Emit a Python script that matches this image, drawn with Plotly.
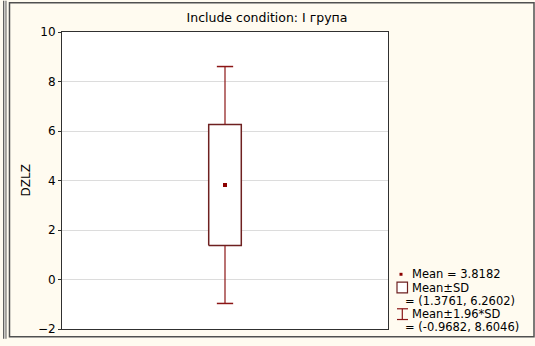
import plotly.graph_objects as go

# Summary statistics for DZLZ, group "I група"
category = ["I група"]
mean_val = [3.8182]
sd_low = [1.3761]
sd_high = [6.2602]
ci_low = [-0.9682]
ci_high = [8.6046]

y_ticks = [-2, 0, 2, 4, 6, 8, 10]

W, H = 535, 346
ML, MR, MT, MB = 62, 147, 32, 10
PW, PH = W - ML - MR, H - MT - MB

BG = "#FFFBF0"
RED = "#8B1515"
BOXC = "#6E2020"
FONT = "DejaVu Sans, Arial, sans-serif"


def px(x):
    return (x - ML) / PW


def py(y):
    return 1 - (y - MT) / PH


xc = 0.0
box_half = 0.05
cap_half = 0.025

fig = go.Figure()

# Mean ± SD box
fig.add_trace(go.Scatter(
    x=[xc - box_half, xc + box_half, xc + box_half, xc - box_half, xc - box_half],
    y=[sd_low[0], sd_low[0], sd_high[0], sd_high[0], sd_low[0]],
    mode="lines", fill="toself", fillcolor="white",
    line=dict(color=BOXC, width=1.5), hoverinfo="skip", showlegend=False))

# Whiskers to mean ± 1.96*SD
for a, b in [(sd_high[0], ci_high[0]), (sd_low[0], ci_low[0])]:
    fig.add_trace(go.Scatter(x=[xc, xc], y=[a, b], mode="lines",
                             line=dict(color=RED, width=1.2),
                             hoverinfo="skip", showlegend=False))
for v in [ci_high[0], ci_low[0]]:
    fig.add_trace(go.Scatter(x=[xc - cap_half, xc + cap_half], y=[v, v], mode="lines",
                             line=dict(color=RED, width=1.5),
                             hoverinfo="skip", showlegend=False))

# Mean point
fig.add_trace(go.Scatter(x=[xc], y=mean_val, mode="markers",
                         marker=dict(symbol="square", size=4, color="#8B0000"),
                         showlegend=False))

shapes = []
# Outer panel frame and neighbouring panel edge
shapes.append(dict(type="rect", xref="paper", yref="paper",
                   x0=px(9.5), x1=px(534), y0=py(344), y1=py(2),
                   line=dict(color="#505050", width=1.5)))
for xx, col in [(3.5, "#606060"), (4.8, "#B0B0B0"), (6, "#606060")]:
    shapes.append(dict(type="line", xref="paper", yref="paper",
                       x0=px(xx), x1=px(xx), y0=py(346), y1=py(0),
                       line=dict(color=col, width=1)))

# Legend rows (pixel y of each text line)
rows = [280, 293.6, 307.2, 320.8, 334.4]

# Legend symbols
shapes.append(dict(type="rect", xref="paper", yref="paper",
                   x0=px(397), x1=px(407.5), y0=py(rows[1] + 5.5), y1=py(rows[1] - 5.5),
                   line=dict(color=BOXC, width=1.2), fillcolor="white"))
shapes.append(dict(type="line", xref="paper", yref="paper",
                   x0=px(402.3), x1=px(402.3), y0=py(rows[3] + 5.5), y1=py(rows[3] - 5.5),
                   line=dict(color=RED, width=1.2)))
for dy in (-5.5, 5.5):
    shapes.append(dict(type="line", xref="paper", yref="paper",
                       x0=px(397), x1=px(408), y0=py(rows[3] + dy), y1=py(rows[3] + dy),
                       line=dict(color=RED, width=1.2)))
shapes.append(dict(type="rect", xref="paper", yref="paper",
                   x0=px(399.5), x1=px(402.5), y0=py(rows[0] + 1.5), y1=py(rows[0] - 1.5),
                   line=dict(width=0), fillcolor="#8B0000"))

legend_lines = [
    (411, rows[0], f"Mean = {mean_val[0]:.4f}"),
    (410.5, rows[1], "Mean±SD"),
    (404, rows[2], f"= ({sd_low[0]:.4f}, {sd_high[0]:.4f})"),
    (410.5, rows[3], "Mean±1.96*SD"),
    (404, rows[4], f"= ({ci_low[0]:.4f}, {ci_high[0]:.4f})"),
]
annotations = []
for x0, y0, t in legend_lines:
    annotations.append(dict(text=t, x=px(x0), y=py(y0), xref="paper", yref="paper",
                            xanchor="left", yanchor="middle", showarrow=False, borderpad=0,
                            font=dict(family=FONT, size=11.5, color="#000")))

# Y axis title
annotations.append(dict(text="DZLZ", x=px(25), y=py(184), xref="paper", yref="paper",
                        textangle=-90, xanchor="center", yanchor="middle", showarrow=False,
                        font=dict(family=FONT, size=12, color="#000")))

fig.update_layout(
    width=W, height=H,
    margin=dict(l=ML, r=MR, t=MT, b=MB),
    paper_bgcolor=BG, plot_bgcolor="white",
    title=dict(text="Include condition: I група", x=267 / W, xref="container",
               xanchor="center", y=1 - 18 / H, yref="container", yanchor="middle",
               font=dict(family=FONT, size=12.5, color="#000")),
    xaxis=dict(range=[-0.5, 0.5], showticklabels=False, ticks="", showgrid=False,
               zeroline=False, showline=True, mirror=True, linecolor="#303030",
               linewidth=1, fixedrange=True),
    yaxis=dict(range=[-2, 10], tickvals=y_ticks, ticks="outside", ticklen=3,
               tickcolor="#303030", showgrid=True, gridcolor="#DCDCDC", gridwidth=1,
               zeroline=False, showline=True, mirror=True, linecolor="#303030",
               linewidth=1, tickfont=dict(family=FONT, size=12, color="#000"),
               fixedrange=True),
    shapes=shapes,
    annotations=annotations,
    showlegend=False,
)

fig.write_html("out.html")
